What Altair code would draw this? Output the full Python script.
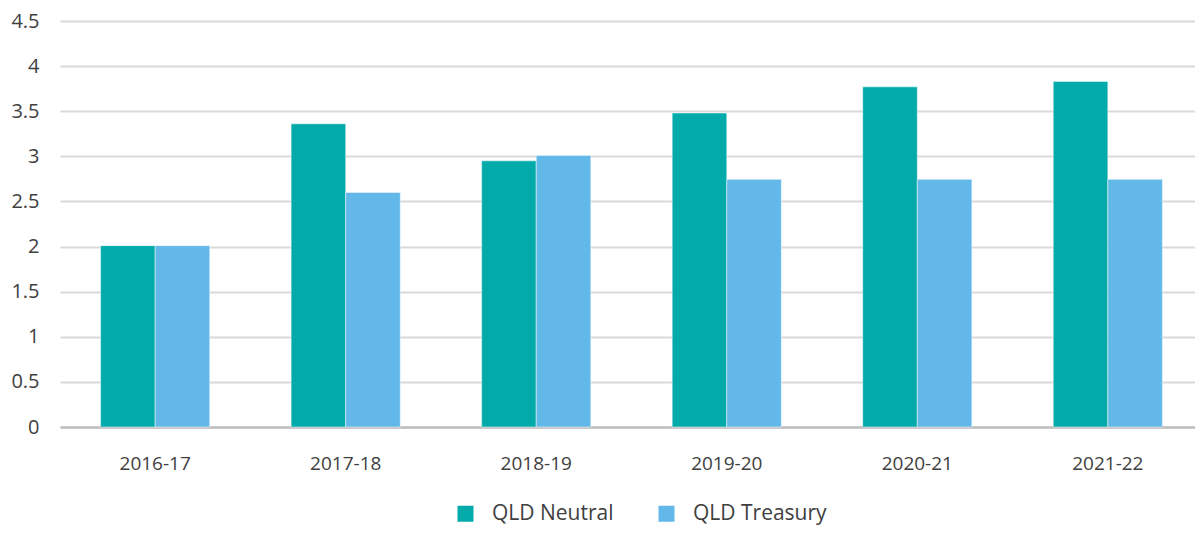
import altair as alt
import pandas as pd

years = ["2016-17", "2017-18", "2018-19", "2019-20", "2020-21", "2021-22"]
qld_neutral = [2.01, 3.36, 2.95, 3.48, 3.77, 3.83]
qld_treasury = [2.01, 2.60, 3.01, 2.745, 2.745, 2.745]
series = ["QLD Neutral", "QLD Treasury"]
colors = ["#02ABAA", "#62B8E8"]

rows = []
for i, y in enumerate(years):
    rows.append({"year": y, "series": series[0], "value": qld_neutral[i]})
    rows.append({"year": y, "series": series[1], "value": qld_treasury[i]})
df = pd.DataFrame(rows)

FONT = "Open Sans"
TXT = "#404040"

chart = alt.Chart(df).mark_bar(stroke="#ffffff", strokeWidth=0.8, strokeOpacity=0.6).encode(
    x=alt.X("year:N", sort=years, title=None,
            scale=alt.Scale(paddingInner=0.427, paddingOuter=0.213, range=[0, 1143]),
            axis=alt.Axis(labelAngle=0, labelFont=FONT, labelFontSize=19, labelColor=TXT,
                          labelPadding=27, ticks=False, domainColor="#BFBFBF", domainWidth=2.5,
                          grid=False)),
    xOffset=alt.XOffset("series:N", sort=series),
    y=alt.Y("value:Q", title=None,
            scale=alt.Scale(domain=[0, 4.5], nice=False),
            axis=alt.Axis(values=[0, 0.5, 1, 1.5, 2, 2.5, 3, 3.5, 4, 4.5], format="~g",
                          labelFont=FONT, labelFontSize=20, labelColor=TXT, labelPadding=21,
                          ticks=False, domain=False, gridColor="#D9D9D9", gridWidth=2)),
    color=alt.Color("series:N", sort=series,
                    scale=alt.Scale(domain=series, range=colors),
                    legend=alt.Legend(title=None, orient="none", direction="horizontal",
                                      legendX=395, legendY=482, symbolType="square",
                                      symbolSize=256, symbolStrokeWidth=0, labelFont=FONT,
                                      labelFontSize=21, labelColor=TXT, labelOffset=16,
                                      columnPadding=42)),
).properties(
    width=1135, height=406,
    autosize=alt.AutoSizeParams(type="none"),
    padding={"left": 52, "top": 13, "right": 0, "bottom": 100},
).configure_view(stroke=None)

chart.save("out.html", embed_options={"renderer": "svg", "actions": False})
